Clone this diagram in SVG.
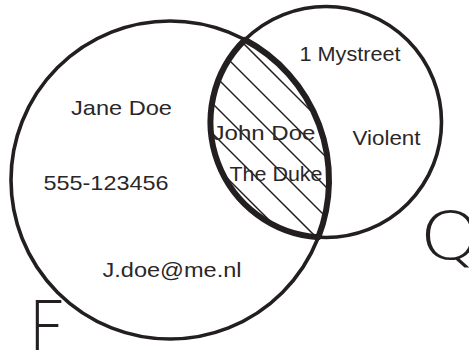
<svg xmlns="http://www.w3.org/2000/svg" width="469" height="351" viewBox="0 0 469 351">
  <style>
    .ring { fill: none; stroke: #231f20; stroke-width: 3.6; }
    .lens { fill: none; stroke: #231f20; stroke-width: 6; stroke-linejoin: round; }
    .hatch { stroke: #231f20; stroke-width: 1.5; }
    .lbl { font-family: "Liberation Sans", Arial, sans-serif; font-size: 21px; fill: #2b2728; }
  </style>
  <defs>
    <clipPath id="lensClip">
      <path d="M244.92,39.75 A115.5,115.5 0 0 0 318.34,237.25 A159,159 0 0 0 244.92,39.75 Z"/>
    </clipPath>
  </defs>
  <rect width="469" height="351" fill="#ffffff"/>

  <g id="hatching" clip-path="url(#lensClip)">
    <line class="hatch" x1="150" y1="-50" x2="450" y2="250"/>
    <line class="hatch" x1="150" y1="-19" x2="450" y2="281"/>
    <line class="hatch" x1="150" y1="11" x2="450" y2="311"/>
    <line class="hatch" x1="150" y1="41" x2="450" y2="341"/>
    <line class="hatch" x1="150" y1="71" x2="450" y2="371"/>
    <line class="hatch" x1="150" y1="101" x2="450" y2="401"/>
  </g>

  <g id="set-F">
    <circle class="ring" cx="170" cy="180" r="159"/>
    <text x="29.5" y="350" font-family="Lato, 'Liberation Sans', sans-serif" font-weight="300" font-size="70" fill="#231f20" textLength="34" lengthAdjust="spacingAndGlyphs">F</text>
  </g>

  <g id="set-Q">
    <circle class="ring" cx="326" cy="122" r="115.5"/>
    <text x="419.5" y="259" font-family="'DejaVu Sans', 'Liberation Sans', sans-serif" font-weight="200" font-size="66" fill="#231f20" textLength="62" lengthAdjust="spacingAndGlyphs">Q</text>
  </g>

  <g id="intersection">
    <path class="lens" d="M244.92,39.75 A115.5,115.5 0 0 0 318.34,237.25 A159,159 0 0 0 244.92,39.75 Z"/>
  </g>

  <g id="labels">
    <text class="lbl" x="71" y="115" textLength="101" lengthAdjust="spacingAndGlyphs">Jane Doe</text>
    <text class="lbl" x="43.5" y="189.5" textLength="125" lengthAdjust="spacingAndGlyphs">555-123456</text>
    <text class="lbl" x="102.5" y="277" textLength="139" lengthAdjust="spacingAndGlyphs">J.doe@me.nl</text>
    <text class="lbl" x="299.5" y="60.5" textLength="101" lengthAdjust="spacingAndGlyphs">1 Mystreet</text>
    <text class="lbl" x="352.5" y="145" textLength="68" lengthAdjust="spacingAndGlyphs">Violent</text>
    <text class="lbl" x="212.5" y="140" textLength="103" lengthAdjust="spacingAndGlyphs">John Doe</text>
    <text class="lbl" x="229.5" y="181" textLength="93" lengthAdjust="spacingAndGlyphs">The Duke</text>
  </g>
</svg>
